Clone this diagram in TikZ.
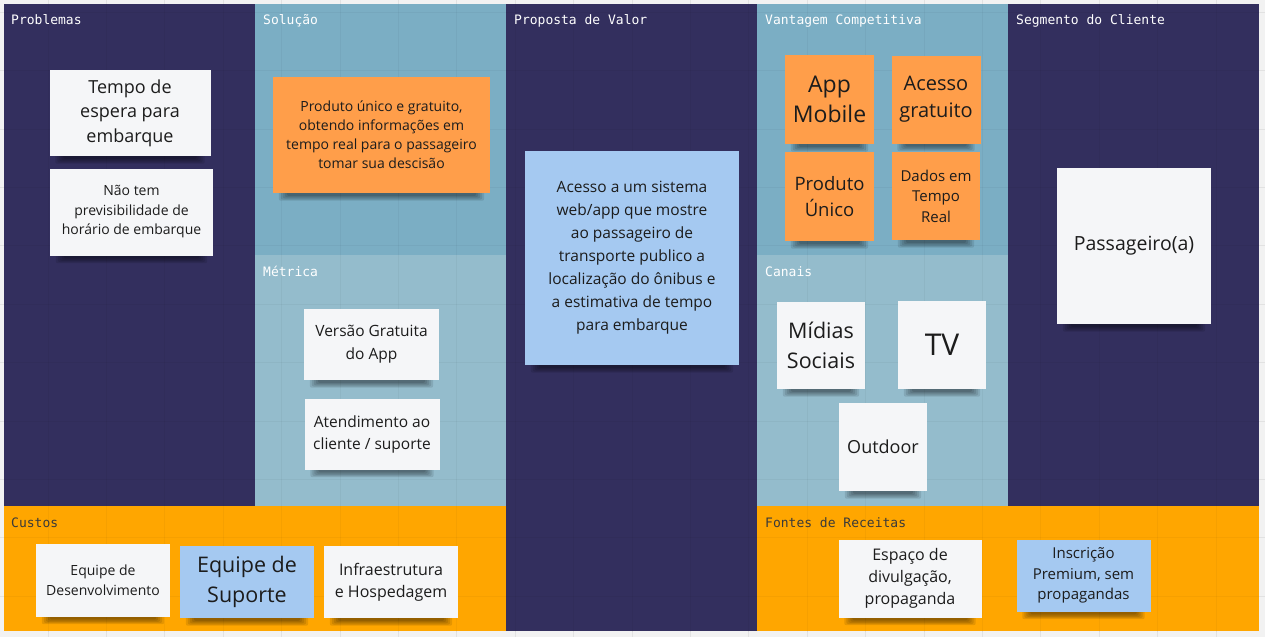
\documentclass[tikz,border=0pt]{standalone}
\usepackage{fontspec}
\setmainfont{Open Sans}
\newfontfamily\hdrfont{DejaVu Sans Mono}

\definecolor{navy}{RGB}{51,47,94}
\definecolor{tealA}{RGB}{123,174,196}
\definecolor{tealB}{RGB}{148,188,204}
\definecolor{band}{RGB}{255,166,0}
\definecolor{paper}{RGB}{242,242,242}
\definecolor{gridline}{RGB}{226,226,226}
\definecolor{noteorange}{RGB}{255,158,74}
\definecolor{noteblue}{RGB}{165,201,241}
\definecolor{notewhite}{RGB}{245,246,248}
\definecolor{ink}{RGB}{28,28,28}
\definecolor{dimink}{RGB}{58,58,58}

\newcommand\nsize[2]{\fontsize{#1}{#2}\selectfont}

% soft shadow strip below a sticky note
\newcommand\dropshade[1]{%
  \foreach \k in {1,...,5}{%
    \fill[black, opacity=0.1, rounded corners=2pt]
      ([xshift={(16-2*\k)*1pt}, yshift=12pt]#1.south west) rectangle
      ([xshift={-(16-2*\k)*1pt}, yshift={-(1.5+1.2*\k)*1pt}]#1.south east);
  }}

\pgfdeclarelayer{panels}
\pgfdeclarelayer{drops}
\pgfsetlayers{panels,drops,main}

\tikzset{
  note/.style={inner sep=0pt, align=center, text=ink, anchor=center},
  wnote/.style={note, fill=notewhite},
  onote/.style={note, fill=noteorange},
  bnote/.style={note, fill=noteblue},
  wh/.style 2 args={minimum width=#1pt, minimum height=#2pt},
  hdr/.style={anchor=base west, inner sep=0pt, text=white, font=\hdrfont\nsize{13}{15}},
  hdrdark/.style={hdr, text=dimink},
}

\begin{document}
\begin{tikzpicture}[x=1pt,y=-1pt]
\useasboundingbox (0,0) rectangle (1265,637);

\begin{pgfonlayer}{panels}
  % board background with grid
  \fill[paper] (0,0) rectangle (1265,637);
  \foreach \gx in {0,...,20} \draw[gridline] ({47.7+58.4*\gx},0) -- ++(0,637);
  \foreach \gy in {0,...,10} \draw[gridline] (0,{12+58.4*\gy}) -- ++(1265,0);
  % canvas blocks
  \fill[navy]  (4,4)      rectangle (255,506);
  \fill[tealA] (255,4)    rectangle (506,255);
  \fill[tealB] (255,255)  rectangle (506,506);
  \fill[navy]  (506,4)    rectangle (757,631);
  \fill[tealA] (757,4)    rectangle (1008,255);
  \fill[tealB] (757,255)  rectangle (1008,506);
  \fill[navy]  (1008,4)   rectangle (1259,506);
  \fill[band]  (4,506)    rectangle (506,631);
  \fill[band]  (757,506)  rectangle (1259,631);
  \begin{scope}
    \clip (4,4) rectangle (1259,631);
    \foreach \gx in {0,...,20} \draw[black, opacity=0.035] ({47.7+58.4*\gx},0) -- ++(0,637);
    \foreach \gy in {0,...,10} \draw[black, opacity=0.035] (0,{12+58.4*\gy}) -- ++(1265,0);
  \end{scope}
\end{pgfonlayer}

% block titles
\node[hdr] (hProb) at (11,24)   {Problemas};
\node[hdr] (hSol)  at (263,24)  {Solução};
\node[hdr] (hProp) at (514,24)  {Proposta de Valor};
\node[hdr] (hVant) at (765,24)  {Vantagem Competitiva};
\node[hdr] (hSeg)  at (1016,24) {Segmento do Cliente};
\node[hdr] (hMet)  at (263,276) {Métrica};
\node[hdr] (hCan)  at (765,276) {Canais};
\node[hdrdark] (hCus) at (11,527)  {Custos};
\node[hdrdark] (hRec) at (765,527) {Fontes de Receitas};

% Problemas
\node[wnote, wh={161}{86}, font=\nsize{18}{24.5}] (p1) at (130,113) {Tempo de\\espera para\\embarque};
\node[wnote, wh={163}{87}, font=\nsize{14}{19.5}] (p2) at (131.5,212) {Não tem\\previsibilidade de\\horário de embarque};

% Solução
\node[onote, wh={217}{116}, font=\nsize{14}{19}] (s1) at (381.5,135) {Produto único e gratuito,\\obtendo informações em\\tempo real para o passageiro\\tomar sua descisão};

% Métrica
\node[wnote, wh={135}{71}, font=\nsize{15.5}{23}] (m1) at (371.5,344.5) {Versão Gratuita\\do App};
\node[wnote, wh={135}{71}, font=\nsize{15.5}{22}] (m2) at (372,434) {Atendimento ao\\cliente / suporte};

% Proposta de Valor
\node[bnote, wh={214}{214}, font=\nsize{15.5}{23}] (pv) at (632,258) {Acesso a um sistema\\web/app que mostre\\ao passageiro de\\transporte publico a\\localização do ônibus e\\a estimativa de tempo\\para embarque};

% Vantagem Competitiva
\node[onote, wh={89}{89}, font=\nsize{23}{30}]     (v1) at (829.5,99.5) {App\\Mobile};
\node[onote, wh={89}{88}, font=\nsize{20}{27}]     (v2) at (936,99.5)   {Acesso\\gratuito};
\node[onote, wh={89}{89}, font=\nsize{18.5}{25.5}] (v3) at (829.5,196.5){Produto\\Único};
\node[onote, wh={88}{88}, font=\nsize{15}{20.5}]   (v4) at (936,196)    {Dados em\\Tempo\\Real};

% Segmento do Cliente
\node[wnote, wh={154}{156}, font=\nsize{19.5}{26}] (sg) at (1134,246) {Passageiro(a)};

% Canais
\node[wnote, wh={88}{87}, font=\nsize{21.5}{30.5}] (c1) at (821,345.5) {Mídias\\Sociais};
\node[wnote, wh={88}{88}, font=\nsize{30}{36}]     (c2) at (942,345)   {TV};
\node[wnote, wh={88}{88}, font=\nsize{18}{24}]     (c3) at (883,447)   {Outdoor};

% Custos
\node[wnote, wh={134}{73}, font=\nsize{14}{19.5}] (k1) at (103,580) {Equipe de\\Desenvolvimento};
\node[bnote, wh={134}{72}, font=\nsize{21.5}{30}] (k2) at (247,582) {Equipe de\\Suporte};
\node[wnote, wh={134}{72}, font=\nsize{16}{22.3}] (k3) at (391,582) {Infraestrutura\\e Hospedagem};

% Fontes de Receitas
\node[wnote, wh={143}{78}, font=\nsize{16}{21.7}] (r1) at (910,578.5)  {Espaço de\\divulgação,\\propaganda};
\node[bnote, wh={134}{72}, font=\nsize{15}{20.5}] (r2) at (1083.5,575.5) {Inscrição\\Premium, sem\\propagandas};

\begin{pgfonlayer}{drops}
  \foreach \n in {p1,p2,s1,m1,m2,pv,v1,v2,v3,v4,sg,c1,c2,c3,k1,k2,k3,r1,r2}
    {\dropshade{\n}}
\end{pgfonlayer}
\end{tikzpicture}
\end{document}
